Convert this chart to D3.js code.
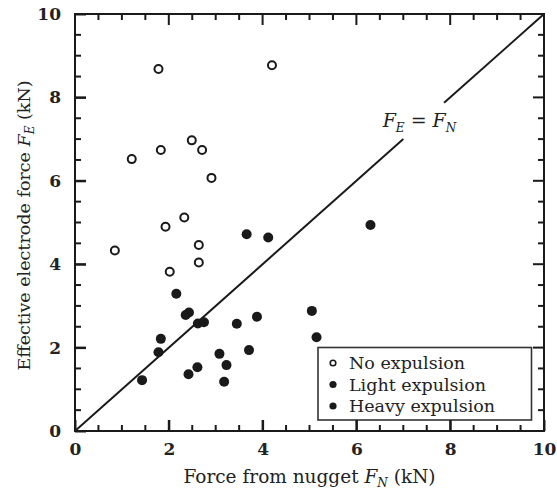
<!DOCTYPE html>
<html>
<head>
<meta charset="utf-8">
<script src="https://cdn.jsdelivr.net/npm/d3@7"></script>
<style>
  html, body { margin: 0; padding: 0; background: #fff; }
  svg { display: block; }
  text { font-family: "DejaVu Serif", "Liberation Serif", serif; fill: #222; }
</style>
</head>
<body>
<svg id="chart" width="557" height="490"></svg>
<script>
// Measured electrode force vs. force from nugget (kN)
const noExpulsionFN = [1.78, 4.20, 1.21, 1.83, 2.49, 2.71, 2.91, 1.93, 2.33, 2.64, 0.85, 2.64, 2.02];
const noExpulsionFE = [8.68, 8.77, 6.52, 6.74, 6.97, 6.74, 6.07, 4.90, 5.12, 4.46, 4.33, 4.04, 3.82];

const lightExpulsionFN = [2.16, 2.36, 2.43, 2.62, 2.75, 1.83, 1.78, 1.43, 2.42, 2.61, 3.08, 3.23, 3.18];
const lightExpulsionFE = [3.29, 2.78, 2.84, 2.58, 2.61, 2.21, 1.89, 1.22, 1.36, 1.53, 1.85, 1.58, 1.18];

const heavyExpulsionFN = [3.66, 4.12, 6.30, 3.45, 3.88, 3.71, 5.05, 5.15];
const heavyExpulsionFE = [4.72, 4.64, 4.94, 2.57, 2.74, 1.94, 2.88, 2.25];

// Reference line F_E = F_N, broken where its label sits
const refLineSegments = [[0, 7.0], [7.87, 10]];

const axisDomain = [0, 10];
const majorTicks = [0, 2, 4, 6, 8, 10];
const minorTicks = d3.range(0, 10.01, 0.5).filter(v => v % 2 !== 0);

const legendLabels = ["No expulsion", "Light expulsion", "Heavy expulsion"];

const svg = d3.select("#chart");
const plotLeft = 75, plotRight = 544, plotTop = 14, plotBottom = 431;

const x = d3.scaleLinear().domain(axisDomain).range([plotLeft, plotRight]);
const y = d3.scaleLinear().domain(axisDomain).range([plotBottom, plotTop]);

const ink = "#1a1a1a";

// Identity line
const line = d3.line().x(d => x(d)).y(d => y(d));
svg.selectAll("path.ref")
  .data(refLineSegments)
  .join("path")
  .attr("class", "ref")
  .attr("d", d => line(d))
  .attr("fill", "none")
  .attr("stroke", ink)
  .attr("stroke-width", 2);

// Label for the identity line
const refLabel = svg.append("text")
  .attr("x", x(6.56)).attr("y", y(7.3))
  .attr("font-size", 19)
  .attr("font-style", "italic");
refLabel.append("tspan").text("F");
refLabel.append("tspan").attr("font-size", 12).attr("dy", 5).text("E");
refLabel.append("tspan").attr("dy", -5).attr("font-style", "normal").text(" = ");
refLabel.append("tspan").text("F");
refLabel.append("tspan").attr("font-size", 12).attr("dy", 5).text("N");

// Points
const open = d3.zip(noExpulsionFN, noExpulsionFE);
const light = d3.zip(lightExpulsionFN, lightExpulsionFE);
const heavy = d3.zip(heavyExpulsionFN, heavyExpulsionFE);

svg.append("g").selectAll("circle")
  .data(open).join("circle")
  .attr("cx", d => x(d[0])).attr("cy", d => y(d[1]))
  .attr("r", 4).attr("fill", "#fff")
  .attr("stroke", ink).attr("stroke-width", 2);

svg.append("g").selectAll("circle")
  .data(light.concat(heavy)).join("circle")
  .attr("cx", d => x(d[0])).attr("cy", d => y(d[1]))
  .attr("r", 5).attr("fill", ink);

// Legend
const legend = svg.append("g");
legend.append("rect")
  .attr("x", 318).attr("y", 347.5).attr("width", 213.5).attr("height", 72.5)
  .attr("fill", "#fff").attr("stroke", "#333").attr("stroke-width", 1.6);

legendLabels.forEach((label, i) => {
  const cy = 363 + i * 21.5;
  const mark = legend.append("circle").attr("cx", 333).attr("cy", cy);
  if (i === 0) {
    mark.attr("r", 2.8).attr("fill", "#fff").attr("stroke", ink).attr("stroke-width", 1.6);
  } else {
    mark.attr("r", 3.6).attr("fill", ink);
  }
  legend.append("text")
    .attr("x", 349).attr("y", cy + 6)
    .attr("font-size", 17.5)
    .text(label);
});

// Axis titles
const xTitle = svg.append("text")
  .attr("x", (plotLeft + plotRight) / 2).attr("y", 483)
  .attr("text-anchor", "middle")
  .attr("font-size", 18.5);
xTitle.append("tspan").text("Force from nugget ");
xTitle.append("tspan").attr("font-style", "italic").text("F");
xTitle.append("tspan").attr("font-style", "italic").attr("font-size", 12).attr("dy", 4).text("N");
xTitle.append("tspan").attr("dy", -4).text(" (kN)");

const yTitle = svg.append("text")
  .attr("transform", `translate(30,${(plotTop + plotBottom) / 2 + 3}) rotate(-90)`)
  .attr("text-anchor", "middle")
  .attr("font-size", 17.5);
yTitle.append("tspan").text("Effective electrode force ");
yTitle.append("tspan").attr("font-style", "italic").text("F");
yTitle.append("tspan").attr("font-style", "italic").attr("font-size", 12).attr("dy", 4).text("E");
yTitle.append("tspan").attr("dy", -4).text(" (kN)");

// Frame
svg.append("rect")
  .attr("x", plotLeft).attr("y", plotTop)
  .attr("width", plotRight - plotLeft).attr("height", plotBottom - plotTop)
  .attr("fill", "none").attr("stroke", ink).attr("stroke-width", 2);

// Axis labels
function drawLabels(axisFn, scale, transform) {
  const g = svg.append("g").attr("transform", transform)
    .call(axisFn(scale).tickValues(majorTicks).tickSize(-11).tickPadding(14).tickFormat(d3.format("d")));
  g.select(".domain").remove();
  g.selectAll(".tick line").attr("stroke", ink).attr("stroke-width", 2);
  g.selectAll(".tick text")
    .attr("font-family", "DejaVu Serif, serif")
    .attr("font-size", 17)
    .attr("font-weight", "bold")
    .attr("fill", "#222");
  return g;
}
drawLabels(d3.axisBottom, x, `translate(0,${plotBottom})`).selectAll(".tick text").attr("dy", "0.6em");
drawLabels(d3.axisLeft, y, `translate(${plotLeft},0)`);

// Inward tick marks on all four sides, placed through the scales
const tickSpecs = majorTicks.map(v => ({ v, len: 11 }))
  .concat(minorTicks.map(v => ({ v, len: 6 })));
const tickG = svg.append("g").attr("stroke", ink).attr("stroke-width", 2);
tickG.selectAll("line.tb").data(tickSpecs).join("line").attr("class", "tb")
  .attr("x1", d => x(d.v)).attr("x2", d => x(d.v))
  .attr("y1", plotBottom).attr("y2", d => plotBottom - d.len);
tickG.selectAll("line.tt").data(tickSpecs).join("line").attr("class", "tt")
  .attr("x1", d => x(d.v)).attr("x2", d => x(d.v))
  .attr("y1", plotTop).attr("y2", d => plotTop + d.len);
tickG.selectAll("line.tl").data(tickSpecs).join("line").attr("class", "tl")
  .attr("y1", d => y(d.v)).attr("y2", d => y(d.v))
  .attr("x1", plotLeft).attr("x2", d => plotLeft + d.len);
tickG.selectAll("line.tr").data(tickSpecs).join("line").attr("class", "tr")
  .attr("y1", d => y(d.v)).attr("y2", d => y(d.v))
  .attr("x1", plotRight).attr("x2", d => plotRight - d.len);
</script>
</body>
</html>
